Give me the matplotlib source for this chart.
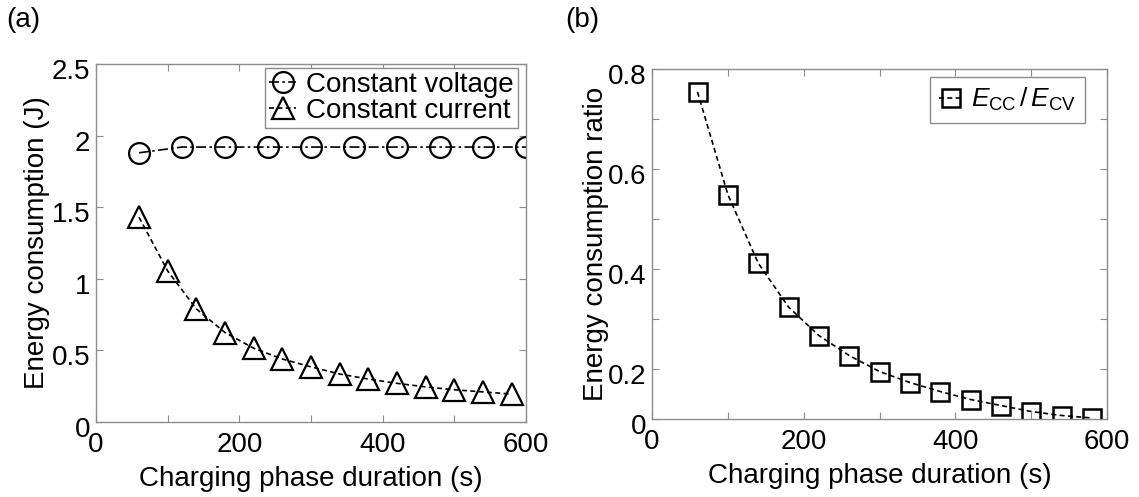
import matplotlib.pyplot as plt
from matplotlib.ticker import MultipleLocator, FixedLocator, FixedFormatter
import matplotlib.transforms as mtransforms

plt.rcParams['font.family'] = ['Liberation Sans', 'DejaVu Sans']
plt.rcParams['mathtext.fontset'] = 'custom'
plt.rcParams['mathtext.rm'] = 'Liberation Sans'
plt.rcParams['mathtext.it'] = 'Liberation Sans:italic'

# data
cv_x = [60, 120, 180, 240, 300, 360, 420, 480, 540, 600]
cv_y = [1.88, 1.92, 1.92, 1.92, 1.92, 1.92, 1.92, 1.92, 1.92, 1.92]

cc_x = [60, 100, 140, 180, 220, 260, 300, 340, 380, 420, 460, 500, 540, 580]
cc_y = [1.43, 1.055, 0.79, 0.625, 0.515, 0.44, 0.385, 0.335, 0.30, 0.27,
        0.245, 0.225, 0.21, 0.195]

ratio_x = cc_x
ratio_y = [0.754, 0.549, 0.412, 0.324, 0.267, 0.227, 0.195, 0.173, 0.155,
           0.139, 0.127, 0.115, 0.107, 0.102]

# the original labels the bottom of the ratio axis "0"
ratio_ticks = [0.1, 0.2, 0.4, 0.6, 0.8]
ratio_ticklabels = ['0', '0.2', '0.4', '0.6', '0.8']

FS = 20
GRAY = '#8c8c8c'

fig = plt.figure(figsize=(11.39, 4.97), dpi=100)
ax1 = fig.add_axes([96/1139, 75/497, 430/1139, 358/497])
ax2 = fig.add_axes([652/1139, 78/497, 455/1139, 350/497])


def style(ax):
    for s in ax.spines.values():
        s.set_color(GRAY)
        s.set_linewidth(1.0)
    ax.tick_params(which='both', direction='in', top=True, right=True,
                   color=GRAY, width=0.8, length=5, labelsize=FS)
    ax.tick_params(axis='x', pad=7)
    ax.tick_params(axis='y', pad=4)
    # y tick labels sit slightly low in the original
    off = mtransforms.ScaledTranslation(0, -5/100, fig.dpi_scale_trans)
    for lab in ax.get_yticklabels():
        lab.set_transform(lab.get_transform() + off)


# panel (a)
ax1.plot(cv_x, cv_y, color='black', lw=1.2, ls=(0, (6, 2, 1.5, 2)),
         marker='o', ms=15, mfc='none', mec='black', mew=1.6,
         label='Constant voltage')
ax1.plot(cc_x, cc_y, color='black', lw=1.2, ls=(0, (3, 2)),
         marker='^', ms=16, mfc='none', mec='black', mew=1.6,
         label='Constant current')
ax1.set_xlim(0, 600)
ax1.set_ylim(0, 2.5)
ax1.xaxis.set_major_locator(MultipleLocator(200))
ax1.xaxis.set_minor_locator(MultipleLocator(100))
ax1.yaxis.set_major_locator(MultipleLocator(0.5))
ax1.yaxis.set_major_formatter(plt.FuncFormatter(lambda v, p: f'{v:g}'))
ax1.set_xlabel('Charging phase duration (s)', fontsize=FS, labelpad=6)
ax1.set_ylabel('Energy consumption (J)', fontsize=FS, labelpad=1)
style(ax1)
leg1 = ax1.legend(loc='upper right', bbox_to_anchor=(0.9814, 0.989),
                  borderaxespad=0, fontsize=FS, frameon=True, fancybox=False,
                  edgecolor=GRAY, framealpha=1, handlelength=1.0,
                  handletextpad=0.35, labelspacing=0.0, borderpad=0.15)
leg1.get_frame().set_linewidth(1.0)

# panel (b)
ax2.plot(ratio_x, ratio_y, color='black', lw=1.2, ls=(0, (3, 2)),
         marker='s', ms=13, mfc='none', mec='black', mew=1.8,
         label=r'$E_{\rm CC}\,/\,E_{\rm CV}$')
ax2.set_xlim(0, 600)
ax2.set_ylim(0.1, 0.8)
ax2.xaxis.set_major_locator(MultipleLocator(200))
ax2.xaxis.set_minor_locator(MultipleLocator(100))
ax2.yaxis.set_major_locator(FixedLocator(ratio_ticks))
ax2.yaxis.set_major_formatter(FixedFormatter(ratio_ticklabels))
ax2.yaxis.set_minor_locator(MultipleLocator(0.1))
ax2.set_xlabel('Charging phase duration (s)', fontsize=FS, labelpad=6)
ax2.set_ylabel('Energy consumption ratio', fontsize=FS, labelpad=-1)
style(ax2)
leg2 = ax2.legend(loc='upper right', bbox_to_anchor=(0.9516, 0.977),
                  borderaxespad=0, fontsize=19, frameon=True, fancybox=False,
                  edgecolor=GRAY, framealpha=1, handlelength=0.9,
                  handletextpad=0.3, borderpad=0.35)
leg2.get_frame().set_linewidth(1.0)

fig.text(6/1139, 1 - 20/497, '(a)', fontsize=20, va='center', ha='left')
fig.text(565/1139, 1 - 20/497, '(b)', fontsize=20, va='center', ha='left')

fig.savefig('out.png', dpi=100)
